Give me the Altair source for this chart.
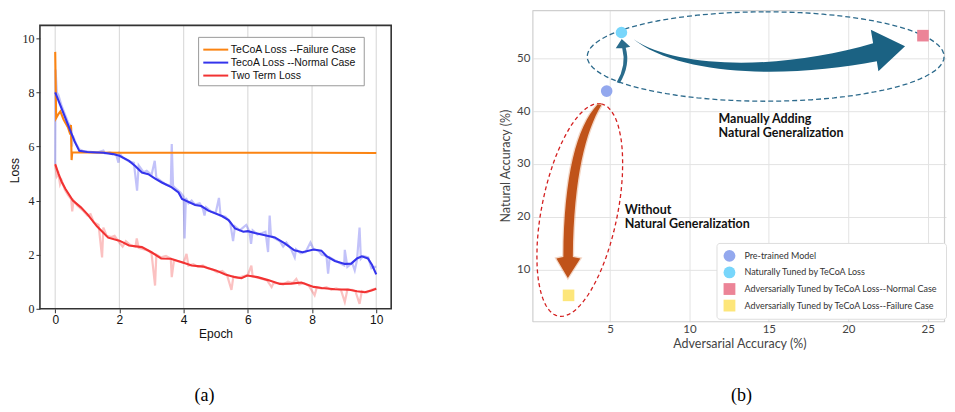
import math
import altair as alt
import pandas as pd

# ---------------- (a) training-loss curves ----------------
series_names = ["TeCoA Loss --Failure Case", "TecoA Loss --Normal Case", "Two Term Loss"]
series_colors = ["#fb8412", "#3434ec", "#f23232"]
epoch_ticks = [0, 2, 4, 6, 8, 10]
loss_ticks = [0, 2, 4, 6, 8, 10]

failure_case = [(0.0, 9.5), (0.03, 7.05), (0.1, 7.2), (0.16, 7.3), (0.26, 7.0), (0.4, 6.7),
                (0.47, 6.45), (0.49, 6.8), (0.51, 5.5), (0.53, 5.78), (1.0, 5.78), (2.0, 5.77),
                (4.0, 5.77), (6.0, 5.77), (8.0, 5.77), (10.0, 5.76)]

normal_case = [(0.0, 8.0), (0.2, 7.4), (0.4, 6.8), (0.6, 6.2), (0.75, 5.84), (1.0, 5.8), (1.5, 5.77),
               (1.8, 5.72), (2.0, 5.66), (2.3, 5.47), (2.5, 5.27), (2.7, 5.04), (2.9, 4.98), (3.1, 4.82),
               (3.32, 4.67), (3.63, 4.49), (3.84, 4.3), (3.95, 4.06), (4.36, 3.84), (4.55, 3.8),
               (4.77, 3.63), (5.19, 3.43), (5.4, 3.28), (5.6, 2.97), (5.86, 2.85), (6.0, 2.87),
               (6.22, 2.8), (6.53, 2.72), (6.84, 2.64), (7.15, 2.42), (7.45, 2.16), (7.7, 2.09),
               (8.05, 2.19), (8.29, 2.15), (8.45, 1.95), (8.71, 1.77), (9.02, 1.66), (9.22, 1.67),
               (9.4, 1.86), (9.55, 1.94), (9.74, 1.86), (9.87, 1.62), (10.0, 1.27)]

two_term = [(0.0, 5.35), (0.1, 5.0), (0.2, 4.7), (0.32, 4.43), (0.55, 4.0), (0.8, 3.75), (1.0, 3.5),
            (1.3, 3.05), (1.65, 2.63), (2.0, 2.52), (2.3, 2.34), (2.7, 2.28), (3.0, 2.09), (3.3, 1.86),
            (3.6, 1.85), (3.95, 1.72), (4.25, 1.6), (4.6, 1.56), (5.0, 1.42), (5.3, 1.27), (5.6, 1.17),
            (5.8, 1.13), (5.98, 1.23), (6.3, 1.17), (6.63, 1.06), (7.0, 0.92), (7.35, 0.93), (7.67, 0.97),
            (8.05, 0.81), (8.3, 0.77), (8.71, 0.72), (9.12, 0.71), (9.4, 0.65), (9.64, 0.61),
            (9.85, 0.68), (10.0, 0.74)]

normal_case_raw = [(0.0, 5.35), (0.01, 8.85), (0.05, 8.0), (0.1, 7.9), (0.15, 7.7), (0.2, 7.5),
                   (0.3, 7.2), (0.4, 6.9), (0.45, 6.8), (0.5, 6.7), (0.52, 6.0), (0.55, 6.4),
                   (0.65, 6.1), (0.75, 5.9), (0.9, 5.82), (1.1, 5.8), (1.3, 5.78), (1.5, 5.85),
                   (1.55, 5.75), (1.7, 5.78), (1.9, 5.7), (1.97, 5.4), (2.0, 5.75), (2.1, 5.6),
                   (2.3, 5.45), (2.45, 5.4), (2.55, 4.37), (2.6, 5.3), (2.75, 5.05), (2.85, 5.1),
                   (3.0, 4.95), (3.1, 5.47), (3.15, 4.85), (3.3, 4.72), (3.45, 4.6), (3.6, 4.55),
                   (3.63, 6.09), (3.67, 4.55), (3.75, 4.45), (3.9, 4.3), (4.0, 4.15), (4.03, 2.6),
                   (4.07, 4.1), (4.15, 3.9), (4.25, 4.0), (4.35, 3.85), (4.5, 3.9), (4.6, 3.7),
                   (4.65, 3.45), (4.7, 3.75), (4.85, 3.6), (5.0, 3.55), (5.1, 4.1), (5.15, 3.45),
                   (5.3, 3.4), (5.45, 3.2), (5.54, 2.5), (5.6, 3.05), (5.75, 2.9), (5.85, 3.0),
                   (5.95, 3.1), (6.05, 2.85), (6.1, 2.4), (6.15, 2.9), (6.3, 2.75), (6.45, 2.8),
                   (6.55, 2.85), (6.63, 2.1), (6.68, 3.45), (6.72, 2.7), (6.85, 2.6), (7.0, 2.5),
                   (7.1, 2.3), (7.2, 2.45), (7.35, 2.2), (7.46, 1.9), (7.5, 2.2), (7.65, 2.05),
                   (7.8, 2.1), (7.95, 2.45), (8.05, 2.2), (8.2, 2.15), (8.3, 2.0), (8.45, 1.95),
                   (8.5, 1.3), (8.55, 1.9), (8.7, 1.8), (8.85, 1.7), (9.0, 1.6), (9.02, 2.18),
                   (9.1, 1.55), (9.25, 1.7), (9.33, 1.42), (9.4, 1.8), (9.48, 3.0), (9.52, 1.85),
                   (9.6, 1.95), (9.75, 1.9), (9.85, 1.5), (9.95, 1.55), (10.0, 1.55)]

two_term_raw = [(0.0, 5.3), (0.05, 4.9), (0.1, 5.0), (0.15, 4.6), (0.2, 4.75), (0.3, 4.4), (0.4, 4.2),
                (0.5, 4.05), (0.53, 3.6), (0.57, 4.0), (0.7, 3.8), (0.85, 3.65), (1.0, 3.45), (1.1, 3.5),
                (1.2, 3.2), (1.35, 3.1), (1.46, 1.9), (1.5, 3.0), (1.6, 2.7), (1.75, 2.65), (1.85, 2.7),
                (2.0, 2.45), (2.1, 2.3), (2.2, 2.5), (2.35, 2.35), (2.5, 2.3), (2.54, 2.6), (2.6, 2.25),
                (2.75, 2.2), (2.9, 2.15), (3.0, 2.05), (3.11, 0.86), (3.15, 2.0), (3.3, 1.9), (3.45, 1.95),
                (3.6, 1.85), (3.63, 1.17), (3.7, 1.8), (3.85, 1.75), (4.0, 1.7), (4.09, 2.03), (4.15, 1.6),
                (4.3, 1.65), (4.45, 1.55), (4.6, 1.6), (4.75, 1.5), (4.9, 1.45), (5.05, 1.35), (5.2, 1.4),
                (5.35, 1.25), (5.49, 0.7), (5.55, 1.2), (5.7, 1.15), (5.85, 1.2), (6.0, 1.25), (6.11, 1.6),
                (6.15, 1.2), (6.3, 1.15), (6.45, 1.1), (6.6, 1.05), (6.74, 0.8), (6.8, 0.95), (6.95, 0.95),
                (7.1, 0.9), (7.25, 1.0), (7.4, 0.95), (7.51, 1.1), (7.6, 0.9), (7.75, 0.95), (7.9, 0.85),
                (8.08, 0.5), (8.15, 0.8), (8.3, 0.75), (8.45, 0.8), (8.6, 0.7), (8.75, 0.75), (8.9, 0.7),
                (9.02, 0.25), (9.1, 0.7), (9.25, 0.7), (9.35, 0.65), (9.48, 0.18), (9.55, 0.65),
                (9.7, 0.6), (9.85, 0.7), (10.0, 0.75)]

# ---------------- (b) accuracy scatter ----------------
model_labels = ["Pre-trained Model", "Naturally Tuned by TeCoA Loss",
                "Adversarially Tuned by TeCoA Loss--Normal Case",
                "Adversarially Tuned by TeCoA Loss--Failure Case"]
adv_acc = [4.79, 5.72, 24.7, 2.39]
nat_acc = [43.8, 54.9, 54.3, 5.1]
model_colors = ["#93a8ee", "#78d6fb", "#ec8497", "#fde67a"]
model_shapes = ["circle", "circle", "square", "square"]
adv_ticks = [5, 10, 15, 20, 25]
nat_ticks = [10, 20, 30, 40, 50]


def long_table(names, series_list):
    rows = []
    for name, pts in zip(names, series_list):
        for i, (e, l) in enumerate(pts):
            rows.append({"series": name, "epoch": e, "loss": l, "i": i})
    return pd.DataFrame(rows)


one = pd.DataFrame({"k": [0]})
CAP_Y = 387

# ================= panel (a) =================
W1, H1, FRAME_TOP = 352, 300, 16
x1 = alt.Scale(domain=[-0.476, 10.465], nice=False, zero=False)
y1 = alt.Scale(domain=[0, 10.48 * H1 / (H1 - FRAME_TOP)], nice=False, zero=False)
c1 = alt.Scale(domain=series_names, range=series_colors)

xa = alt.Axis(values=epoch_ticks, grid=False, domain=False, tickSize=4, tickColor="#333",
              labelFont="Liberation Sans", labelFontSize=12, labelColor="#111", labelPadding=2,
              title="Epoch", titleFont="Liberation Sans", titleFontSize=12, titleFontWeight="normal",
              titleColor="#111", titlePadding=3)
ya = alt.Axis(values=loss_ticks, grid=False, domain=False, tickSize=4, tickColor="#333",
              labelFont="Liberation Serif", labelFontSize=12, labelColor="#222", labelPadding=2,
              title="Loss", titleFont="Liberation Sans", titleFontSize=12, titleFontWeight="normal",
              titleColor="#111", titleX=-30, titleY=161, titleAngle=270, titleBaseline="top",
              titleAlign="center")

X1 = alt.X("epoch:Q", scale=x1, axis=xa)
Y1 = alt.Y("loss:Q", scale=y1, axis=ya)

grid1 = alt.Chart(pd.DataFrame({"epoch": epoch_ticks})).mark_rule(
    color="#dcdcdc", strokeWidth=1.2).encode(x=X1, y=alt.value(FRAME_TOP), y2=alt.value(H1))

raw_df = long_table(series_names[1:], [normal_case_raw, two_term_raw])
raw = alt.Chart(raw_df).mark_line(strokeWidth=2.2, opacity=0.3).encode(
    x=X1, y=Y1, color=alt.Color("series:N", scale=c1, legend=None),
    detail="series:N", order="i:Q")

main_df = long_table(series_names, [failure_case, normal_case, two_term])
main = alt.Chart(main_df).mark_line(strokeWidth=2.1).encode(
    x=X1, y=Y1, color=alt.Color("series:N", scale=c1, legend=None),
    detail="series:N", order="i:Q")

frame1 = alt.Chart(one).mark_rect(fillOpacity=0, stroke="#333333", strokeWidth=1.6).encode(
    x=alt.value(0), x2=alt.value(W1), y=alt.value(FRAME_TOP), y2=alt.value(H1))

leg_box = alt.Chart(one).mark_rect(fill="white", stroke="#9a9a9a", strokeWidth=1).encode(
    x=alt.value(159), x2=alt.value(325), y=alt.value(28), y2=alt.value(76.5))
leg_layers = [leg_box]
for i, (name, col) in enumerate(zip(series_names, series_colors)):
    yy = 40.3 + 13 * i
    leg_layers.append(alt.Chart(one).mark_rule(color=col, strokeWidth=2).encode(
        x=alt.value(163.7), x2=alt.value(188.7), y=alt.value(yy)))
    leg_layers.append(alt.Chart(one).mark_text(
        align="left", baseline="middle", font="Liberation Sans", fontSize=10.5, color="#111").encode(
        x=alt.value(191.3), y=alt.value(yy), text=alt.value(name)))

cap_a = alt.Chart(one).mark_text(font="Liberation Serif", fontSize=18, color="#000",
                                 align="center", baseline="middle").encode(
    x=alt.value(165), y=alt.value(CAP_Y), text=alt.value("(a)"))

left = alt.layer(grid1, raw, main, frame1, *leg_layers, cap_a).properties(width=W1, height=H1)

# ================= panel (b) =================
W2, H2 = 414, 313
PX_PER_UNIT = 15.92
XD2 = [0.145, 0.145 + W2 / PX_PER_UNIT]
YD2 = [0.1, 59.27]
PX0, PY0 = 532, 8  # page position of this plot's origin
x2s = alt.Scale(domain=XD2, nice=False, zero=False)
y2s = alt.Scale(domain=YD2, nice=False, zero=False)

xa2 = alt.Axis(values=adv_ticks, grid=True, gridColor="#e3e3e3", gridWidth=1, domain=False,
               ticks=False, labelPadding=2, labelFont="Lato", labelFontSize=11.5, labelColor="#444",
               title="Adversarial Accuracy (%)", titleFont="Lato", titleFontSize=12.5,
               titleFontWeight="normal", titleColor="#444", titlePadding=2)
ya2 = alt.Axis(values=nat_ticks, grid=True, gridColor="#e3e3e3", gridWidth=1, domain=False,
               ticks=False, labelPadding=3, labelFont="Lato", labelFontSize=11.5, labelColor="#444",
               title="Natural Accuracy (%)", titleFont="Lato", titleFontSize=12.5,
               titleFontWeight="normal", titleColor="#444", titlePadding=4)
X2 = alt.X("adv:Q", scale=x2s, axis=xa2)
Y2 = alt.Y("nat:Q", scale=y2s, axis=ya2)

pts_df = pd.DataFrame({"model": model_labels, "adv": adv_acc, "nat": nat_acc})


def anchor_px(idx):
    ax = (adv_acc[idx] - XD2[0]) / (XD2[1] - XD2[0]) * W2
    ay = (YD2[1] - nat_acc[idx]) / (YD2[1] - YD2[0]) * H2
    return ax, ay


def rel_path(cmds, idx):
    ax, ay = anchor_px(idx)
    out = []
    for c, pts in cmds:
        s = c
        for (px, py) in pts:
            s += " %.1f %.1f" % (px - PX0 - ax, py - PY0 - ay)
        out.append(s)
    return " ".join(out) + " Z"


def ellipse_path(cx, cy, a, b, tilt_deg, idx, n=96):
    # a: semi-axis along the (tilted) vertical direction, b: along the perpendicular
    t0 = math.radians(tilt_deg)
    ux, uy = math.sin(t0), -math.cos(t0)
    vx, vy = math.cos(t0), math.sin(t0)
    cmds = []
    for k in range(n):
        t = 2 * math.pi * k / n
        px = cx + a * math.cos(t) * ux + b * math.sin(t) * vx
        py = cy + a * math.cos(t) * uy + b * math.sin(t) * vy
        cmds.append(("M" if k == 0 else "L", [(px, py)]))
    return rel_path(cmds, idx)


def anchored(idx):
    return alt.Chart(pts_df.iloc[[idx]]).encode(x=X2, y=Y2)


blue_ell = anchored(1).mark_point(
    shape=ellipse_path(765.3, 55.2, 44.8, 178.8, 0, 1), size=4, filled=False, opacity=1,
    color="#2c6a8c", strokeWidth=1.3, strokeDash=[5, 3], strokeJoin="bevel")
red_ell = anchored(0).mark_point(
    shape=ellipse_path(579, 209, 108.5, 38, 11.4, 0), size=4, filled=False, opacity=1,
    color="#d42020", strokeWidth=1.3, strokeDash=[4, 3], strokeJoin="bevel")

big_arrow = [("M", [(633, 38)]), ("C", [(680, 70), (790, 67), (873, 42)]),
             ("L", [(870.7, 28.3)]), ("L", [(905, 45)]), ("L", [(878.3, 70)]), ("L", [(876.7, 60)]),
             ("C", [(800, 75), (690, 78), (637, 41)])]
small_arrow = [("M", [(616, 81)]), ("Q", [(626, 64), (621.5, 47)]), ("L", [(615, 47)]),
               ("L", [(621, 37.5)]), ("L", [(629.5, 45.5)]), ("L", [(625, 46.5)]),
               ("Q", [(630, 64), (619, 82)])]
down_arrow = [("M", [(597, 103)]), ("C", [(576, 125), (563, 175), (562.5, 256)]),
              ("L", [(555.5, 257.5)]), ("L", [(567, 277)]), ("L", [(579.5, 257.5)]),
              ("L", [(572, 256)]), ("C", [(573, 175), (585, 130), (600.5, 104)])]

arr_big = anchored(1).mark_point(shape=rel_path(big_arrow, 1), size=4, filled=True,
                                 opacity=1, color="#1b6283", strokeWidth=0)
arr_small = anchored(0).mark_point(shape=rel_path(small_arrow, 0), size=4, filled=True,
                                   opacity=1, color="#2a6c8c", strokeWidth=0)
arr_down_glow = anchored(0).mark_point(shape=rel_path(down_arrow, 0), size=4, filled=False,
                                       opacity=0.4, color="#e39a70", strokeWidth=2.5)
arr_down = anchored(0).mark_point(shape=rel_path(down_arrow, 0), size=4, filled=True,
                                  opacity=1, color="#c0531a", strokeWidth=0)

leg2 = alt.Legend(orient="none", legendX=184, legendY=234, title=None, labelFont="Lato",
                  labelFontSize=9.0, labelColor="#333", symbolSize=140, symbolStrokeWidth=0,
                  symbolOpacity=1, padding=7, rowPadding=4.6, strokeColor="#dddddd",
                  fillColor="white", cornerRadius=3, labelOffset=9, labelLimit=230)
points = alt.Chart(pts_df).mark_point(filled=True, size=135, opacity=1).encode(
    x=X2, y=Y2,
    color=alt.Color("model:N", scale=alt.Scale(domain=model_labels, range=model_colors), legend=leg2),
    shape=alt.Shape("model:N", scale=alt.Scale(domain=model_labels, range=model_shapes), legend=leg2))

note_layers = []
for txt, xx, yy in [("Manually Adding", 186, 109.7), ("Natural Generalization", 186, 123.7),
                    ("Without", 92, 201), ("Natural Generalization", 92, 215)]:
    note_layers.append(alt.Chart(one).mark_text(
        align="left", baseline="middle", font="Lato", fontSize=12.5, fontWeight="bold",
        color="#111").encode(x=alt.value(xx), y=alt.value(yy), text=alt.value(txt)))

# frame kept just inside the canvas edge (stroke bounds would otherwise push the layout)
frame2 = alt.Chart(one).mark_rect(fillOpacity=0, stroke="#cfcfcf", strokeWidth=1.2,
                                  strokeJoin="bevel").encode(
    x=alt.value(0), x2=alt.value(W2 - 1.5), y=alt.value(1.2), y2=alt.value(H2))

cap_b = alt.Chart(one).mark_text(font="Liberation Serif", fontSize=18, color="#000",
                                 align="center", baseline="middle").encode(
    x=alt.value(209), y=alt.value(CAP_Y), text=alt.value("(b)"))

right = alt.layer(frame2, blue_ell, red_ell, arr_big, arr_small, arr_down_glow, arr_down,
                  points, *note_layers, cap_b).properties(width=W2, height=H2)

chart = alt.hconcat(left, right, spacing=142, bounds="flush").resolve_scale(
    color="independent", shape="independent").resolve_legend(
    color="independent", shape="independent").properties(
    padding=0).configure_view(stroke="transparent")

chart.save("out.html", embed_options={"renderer": "svg", "actions": False})
